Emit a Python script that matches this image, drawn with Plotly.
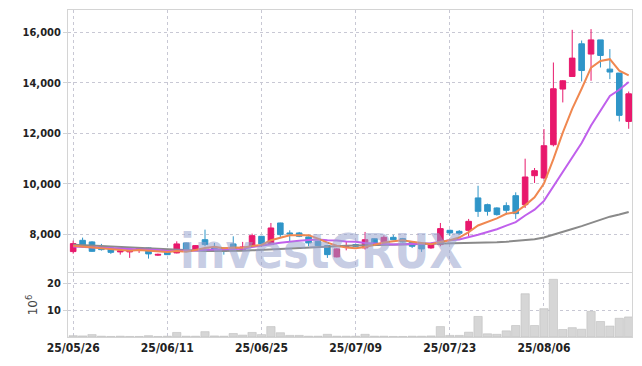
import plotly.graph_objects as go

dates = ["25/05/26","25/05/27","25/05/28","25/05/29","25/05/30",
         "25/06/02","25/06/04","25/06/05","25/06/09","25/06/10","25/06/11","25/06/12","25/06/13",
         "25/06/16","25/06/17","25/06/18","25/06/19","25/06/20","25/06/23","25/06/24","25/06/25",
         "25/06/26","25/06/27","25/06/30",
         "25/07/01","25/07/02","25/07/03","25/07/04","25/07/07","25/07/08","25/07/09","25/07/10",
         "25/07/11","25/07/14","25/07/15","25/07/16","25/07/17","25/07/18","25/07/21","25/07/22",
         "25/07/23","25/07/24","25/07/25","25/07/28","25/07/29","25/07/30","25/07/31",
         "25/08/01","25/08/04","25/08/05","25/08/06","25/08/07","25/08/08","25/08/11","25/08/12",
         "25/08/13","25/08/14","25/08/18","25/08/19","25/08/20"]

open_ = [7330,7775,7712,7515,7475,7318,7318,7420,7475,7190,
         7340,7278,7672,7380,7800,7500,7475,7633,7408,7540,
         7934,7606,8460,8066,8066,7910,7735,7566,7120,7530,
         7606,7475,7842,7672,7893,7842,7712,7633,7475,7606,
         8170,8130,8170,9450,9183,9053,9145,9538,9183,10327,
         10237,11550,13748,14245,15535,15130,15690,14535,14380,12470]
high = [7763,7882,7740,7633,7500,7420,7440,7500,7490,7250,
        7360,7735,7690,7590,8197,7672,7490,7934,7712,8040,
        7950,8460,8470,8170,8106,7930,7760,7580,7460,7735,
        7650,8106,7860,7972,7990,7870,7730,7650,7650,8460,
        8200,8180,8620,9930,9223,9080,9275,9670,10998,10631,
        12170,14797,14100,16087,15665,16115,15690,15325,14380,13650]
low = [7250,7487,7320,7370,7238,7210,7081,7278,7053,7160,
       7190,7260,7320,7360,7540,7420,7210,7475,7390,7520,
       7515,7590,7870,7735,7900,7540,7540,7081,7100,7380,
       7500,7408,7650,7650,7780,7690,7470,7318,7440,7540,
       7950,7990,7934,8700,8750,8750,8790,8620,9053,10040,
       10200,11484,13220,14245,14050,14075,14600,14140,12470,12180]
close = [7645,7566,7340,7408,7300,7357,7420,7475,7238,7220,
         7210,7633,7340,7566,7606,7436,7340,7515,7515,7960,
         7633,8263,8000,8028,7934,7672,7566,7210,7436,7550,
         7540,7800,7672,7893,7800,7712,7540,7436,7633,8237,
         8066,8050,8525,8920,8920,8790,8960,8830,10276,10525,
         11511,13760,14075,14970,14480,15690,15075,14420,12710,13560]

ma5 = [7560,7530,7490,7470,7452,7394,7365,7392,7358,7342,
       7313,7355,7328,7394,7471,7516,7458,7493,7482,7553,
       7593,7777,7874,7977,7972,7979,7840,7682,7564,7487,
       7460,7507,7600,7691,7741,7775,7723,7676,7624,7712,
       7782,7884,8102,8360,8496,8641,8823,8884,9155,9476,
       10020,10980,12029,12968,13759,14595,14858,14927,14475,14291]
ma10 = [7530,7510,7490,7470,7450,7430,7420,7410,7400,7397,
        7353,7360,7360,7376,7407,7414,7406,7410,7438,7512,
        7554,7617,7683,7730,7762,7786,7809,7778,7770,7729,
        7720,7674,7641,7627,7614,7618,7615,7638,7658,7726,
        7779,7804,7889,7992,8104,8212,8354,8493,8757,8986,
        9331,9902,10457,11062,11618,12308,12919,13478,13722,14025]
ma60 = [7600,7590,7570,7550,7530,7510,7490,7470,7450,7430,
        7410,7390,7375,7365,7355,7350,7350,7355,7365,7380,
        7400,7420,7440,7460,7480,7500,7520,7535,7550,7560,
        7570,7578,7585,7592,7600,7606,7612,7618,7624,7632,
        7640,7645,7650,7660,7680,7700,7720,7745,7768,7818,
        7885,7989,8099,8219,8334,8469,8594,8709,8796,8896]

volume_m = [0.5,0.4,0.9,0.3,0.2,0.3,0.2,0.2,0.5,0.2,
            0.3,1.7,0.3,0.3,2.0,0.4,0.3,1.3,0.7,1.7,
            0.9,3.9,1.6,0.6,0.6,0.3,0.3,1.0,0.3,0.3,
            0.3,1.0,0.3,0.3,0.2,0.2,0.3,0.3,0.4,3.9,
            0.6,0.6,1.8,7.7,1.2,1.0,2.3,4.3,16.2,4.3,
            10.6,21.6,2.8,3.5,2.9,9.6,5.8,4.1,7.0,7.5]

price_ticks = [8000, 10000, 12000, 14000, 16000]
price_tick_text = ["8,000", "10,000", "12,000", "14,000", "16,000"]
vol_ticks = [10, 20]
date_ticks = dates[::10]

UP = "#e8186c"
DOWN = "#2f95c8"
GRID = "#c8c8d4"
AXIS = "#d4d4d4"
TXT = "#222222"

fig = go.Figure()

fig.add_trace(go.Scatter(x=dates, y=ma60, mode="lines", line=dict(color="#8a8a8a", width=2),
                         xaxis="x", yaxis="y", hoverinfo="skip"))
fig.add_trace(go.Scatter(x=dates, y=ma10, mode="lines", line=dict(color="#c060ec", width=2),
                         xaxis="x", yaxis="y", hoverinfo="skip"))
fig.add_trace(go.Scatter(x=dates, y=ma5, mode="lines", line=dict(color="#f08850", width=2),
                         xaxis="x", yaxis="y", hoverinfo="skip"))
fig.add_trace(go.Candlestick(x=dates, open=open_, high=high, low=low, close=close,
                             increasing=dict(line=dict(color=UP, width=1), fillcolor=UP),
                             decreasing=dict(line=dict(color=DOWN, width=1), fillcolor=DOWN),
                             whiskerwidth=0, xaxis="x", yaxis="y"))
fig.add_trace(go.Bar(x=dates, y=volume_m, marker=dict(color="#d6d6d6", line=dict(color="#bdbdbd", width=0.6)),
                     xaxis="x2", yaxis="y2"))

font_x = dict(family="DejaVu Sans Condensed", size=12, color=TXT, weight="bold")
font_y = dict(family="DejaVu Sans Condensed", size=11, color=TXT, weight="bold")

# page body has an 8px margin, so the figure is sized/offset to land on the 642x366 window
fig.update_layout(
    width=634, height=358,
    margin=dict(l=60, r=10, t=2, b=29, autoexpand=False),
    paper_bgcolor="white", plot_bgcolor="white",
    showlegend=False, bargap=0.12, boxgap=0.15,
    xaxis=dict(type="category", domain=[0, 1], anchor="y", range=[-0.55, 59.35], autorange=False,
               automargin=False,
               rangeslider=dict(visible=False), showticklabels=False,
               tickmode="array", tickvals=date_ticks,
               showgrid=True, gridcolor=GRID, griddash="dot", gridwidth=1,
               showline=True, linecolor=AXIS, mirror=True, zeroline=False),
    yaxis=dict(domain=[0.2, 1], range=[6540, 16870], autorange=False, automargin=False,
               tickmode="array",
               tickvals=price_ticks, ticktext=price_tick_text, tickfont=font_y,
               ticks="outside", ticklen=4, tickcolor=AXIS,
               showgrid=True, gridcolor=GRID, griddash="dot", gridwidth=1,
               showline=True, linecolor=AXIS, mirror=True, zeroline=False),
    xaxis2=dict(type="category", domain=[0, 1], anchor="y2", matches="x", range=[-0.55, 59.35],
                autorange=False, automargin=False,
                tickmode="array", tickvals=date_ticks, ticktext=date_ticks, tickfont=font_x,
                ticks="", showgrid=True, gridcolor=GRID, griddash="dot", gridwidth=1,
                showline=True, linecolor=AXIS, mirror=True, zeroline=False),
    yaxis2=dict(domain=[0, 0.196], range=[0, 24], autorange=False, automargin=False,
                tickmode="array", tickvals=vol_ticks,
                tickfont=font_y, ticks="outside", ticklen=4, tickcolor=AXIS,
                showgrid=True, gridcolor=GRID, griddash="dot", gridwidth=1,
                showline=True, linecolor=AXIS, mirror=True, zeroline=False,
                title=dict(text="10<sup>6</sup>", font=dict(family="DejaVu Sans", size=12, color="#444"),
                           standoff=6)),
    annotations=[dict(text="<b>investCRUX</b>", xref="paper", yref="paper", x=0.45, y=0.262,
                      xanchor="center", yanchor="middle", showarrow=False,
                      font=dict(family="DejaVu Sans Condensed", size=48,
                                color="rgba(150,162,205,0.55)"))],
)

fig.write_html("out.html")
